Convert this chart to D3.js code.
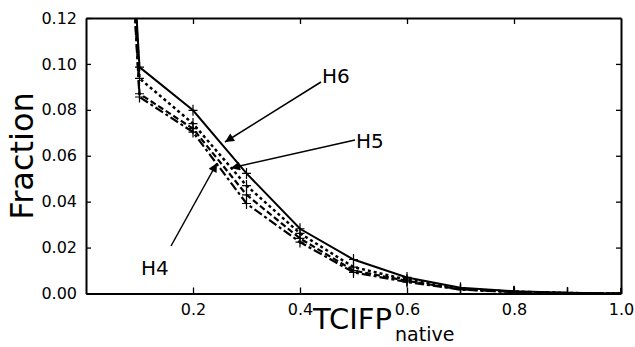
<!DOCTYPE html>
<html><head><meta charset="utf-8">
<script src="https://cdn.jsdelivr.net/npm/d3@7"></script>
<style>body{margin:0;background:#fff}svg{display:block}text{font-family:"DejaVu Sans",sans-serif;fill:#000}</style>
</head><body>
<script>
const xValues = [0, 0.1, 0.2, 0.3, 0.4, 0.5, 0.6, 0.7, 0.8, 0.9, 1.0];
const seriesNames = ["H6", "H5", "H5b", "H4"];
const valuesH6  = [0.5, 0.0986, 0.0798, 0.0523, 0.0282, 0.0148, 0.0070, 0.0025, 0.0010, 0.0003, 0];
const valuesH5  = [0.5, 0.0937, 0.0740, 0.0470, 0.0262, 0.0115, 0.0060, 0.0020, 0.0008, 0.0002, 0];
const valuesH5b = [0.5, 0.0870, 0.0718, 0.0430, 0.0240, 0.0100, 0.0055, 0.0018, 0.0007, 0.0002, 0];
const valuesH4  = [0.5, 0.0856, 0.0703, 0.0392, 0.0224, 0.0092, 0.0050, 0.0017, 0.0006, 0.0002, 0];
const xTickLabels = ["0.2", "0.4", "0.6", "0.8", "1.0"];
const yTickLabels = ["0.00", "0.02", "0.04", "0.06", "0.08", "0.10", "0.12"];
const annotations = [
  {label: "H6", tx: 322, ty: 83, x1: 321, y1: 82, x2: 225, y2: 142},
  {label: "H5", tx: 356, ty: 148, x1: 355, y1: 140, x2: 231, y2: 168},
  {label: "H4", tx: 141, ty: 275, x1: 171, y1: 246, x2: 217, y2: 163}
];

const W = 635, H = 347;
const m = {l: 86, r: 14, t: 18, b: 53.5};
const svg = d3.select("body").append("svg").attr("width", W).attr("height", H);
const x = d3.scaleLinear().domain([0, 1]).range([m.l, W - m.r]);
const y = d3.scaleLinear().domain([0, 0.12]).range([H - m.b, m.t]);

const defs = svg.append("defs");
defs.append("clipPath").attr("id", "clip").append("rect")
  .attr("x", m.l).attr("y", m.t).attr("width", W - m.r - m.l).attr("height", H - m.b - m.t);
defs.append("marker").attr("id", "arr").attr("viewBox", "0 0 10 10")
  .attr("refX", 10).attr("refY", 5).attr("markerWidth", 16).attr("markerHeight", 9)
  .attr("markerUnits", "userSpaceOnUse").attr("orient", "auto")
  .append("path").attr("d", "M0,0L10,5L0,10Z").attr("fill", "#000");

const series = [
  {name: "H6", vals: valuesH6, dash: null, w: 2},
  {name: "H5", vals: valuesH5, dash: "3,3", w: 2.5},
  {name: "H5b", vals: valuesH5b, dash: "6,3", w: 2.2},
  {name: "H4", vals: valuesH4, dash: "9,3,3,3", w: 2.2}
];

const g = svg.append("g").attr("clip-path", "url(#clip)");
const line = d3.line().x((d, i) => x(xValues[i])).y(d => y(d));
series.forEach(s => {
  g.append("path").datum(s.vals).attr("d", line).attr("fill", "none")
    .attr("stroke", "#000").attr("stroke-width", s.w)
    .attr("stroke-dasharray", s.dash);
  g.selectAll(null).data(s.vals).enter().append("path")
    .attr("d", (d, i) => { const cx = x(xValues[i]), cy = y(d);
      return `M${cx-4.5},${cy}H${cx+4.5}M${cx},${cy-5.5}V${cy+5.5}`; })
    .attr("stroke", "#000").attr("stroke-width", 1.2);
});

// axes
const ax = svg.append("g");
const axBottom = d3.axisBottom(x).tickValues([0.2, 0.4, 0.6, 0.8, 1.0])
  .tickFormat((d, i) => xTickLabels[i]).tickSizeInner(-6).tickSizeOuter(0).tickPadding(10);
const axTop = d3.axisTop(x).tickValues([0.2, 0.4, 0.6, 0.8]).tickFormat("").tickSizeInner(-6).tickSizeOuter(0);
const axLeft = d3.axisLeft(y).tickValues([0, 0.02, 0.04, 0.06, 0.08, 0.10, 0.12])
  .tickFormat((d, i) => yTickLabels[i]).tickSizeInner(-5).tickSizeOuter(0).tickPadding(9);
const axRight = d3.axisRight(y).tickValues([0.02, 0.04, 0.06, 0.08, 0.10]).tickFormat("").tickSizeInner(-5).tickSizeOuter(0);
const gb = ax.append("g").attr("transform", `translate(0,${H - m.b})`).call(axBottom);
const gt = ax.append("g").attr("transform", `translate(0,${m.t})`).call(axTop);
const gl = ax.append("g").attr("transform", `translate(${m.l},0)`).call(axLeft);
const gr = ax.append("g").attr("transform", `translate(${W - m.r},0)`).call(axRight);
[gb, gt, gl, gr].forEach(a => {
  a.select(".domain").attr("stroke", "#000").attr("stroke-width", 2);
  a.selectAll(".tick line").attr("stroke", "#000").attr("stroke-width", 1.3);
  a.selectAll("text").attr("font-size", 16).attr("font-family", "DejaVu Sans").attr("fill", "#000");
});

// axis titles
svg.append("text").attr("transform", "translate(33,156) rotate(-90)")
  .attr("text-anchor", "middle").attr("font-size", 32).text("Fraction");
svg.append("text").attr("x", 313).attr("y", 329).attr("font-size", 29).text("TCIFP");
svg.append("text").attr("x", 395).attr("y", 341).attr("font-size", 19).text("native");

// annotations
annotations.forEach(a => {
  svg.append("line").attr("x1", a.x1).attr("y1", a.y1).attr("x2", a.x2).attr("y2", a.y2)
    .attr("stroke", "#000").attr("stroke-width", 1.5).attr("marker-end", "url(#arr)");
  svg.append("text").attr("x", a.tx).attr("y", a.ty).attr("font-size", 20).text(a.label);
});
</script>
</body></html>
